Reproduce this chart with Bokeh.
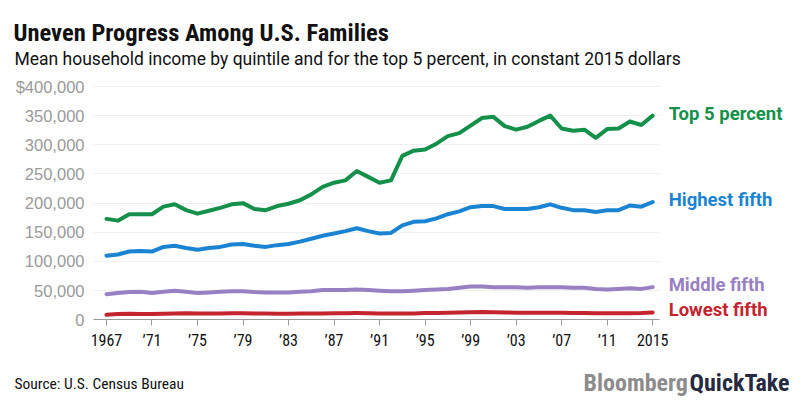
from bokeh.plotting import figure
from bokeh.models import Label, FixedTicker, Range1d
from bokeh.embed import file_html
from bokeh.resources import INLINE

years = list(range(1967, 2016))

top5 = [173000, 170000, 181000, 181000, 181000, 194000, 198000, 188000, 182000, 187000,
        192000, 198000, 200000, 190000, 188000, 195000, 199000, 205000, 215000, 228000,
        235000, 239000, 255000, 245000, 235000, 239000, 281000, 290000, 292000, 302000,
        315000, 320000, 333000, 346000, 348000, 332000, 326000, 331000, 341000, 350000,
        328000, 324000, 326000, 312000, 327000, 328000, 340000, 334000, 350000]

highest = [110000, 112000, 117000, 118000, 117000, 125000, 127000, 123000, 120000, 123000,
           125000, 129000, 130000, 127000, 125000, 128000, 130000, 134000, 139000, 144000,
           148000, 152000, 157000, 152000, 148000, 149000, 162000, 168000, 169000, 174000,
           181000, 186000, 193000, 195000, 195000, 190000, 190000, 190000, 193000, 198000,
           192000, 188000, 188000, 185000, 188000, 188000, 196000, 194000, 202000]

middle = [44000, 46000, 47500, 48000, 46000, 48000, 50000, 48000, 46000, 47000,
          48000, 49000, 49000, 47500, 47000, 47000, 47000, 48000, 49000, 51000,
          51000, 51000, 52000, 51000, 50000, 49000, 49000, 50000, 51000, 52000,
          53000, 55000, 57000, 57000, 56000, 56000, 56000, 55000, 56000, 56000,
          56000, 55000, 55000, 53000, 52000, 53000, 54000, 53000, 56000]

lowest = [8500, 9800, 10300, 10100, 10100, 10500, 11000, 11200, 10700, 10900,
          10800, 11200, 11400, 11000, 10600, 10400, 10300, 10600, 10800, 10900,
          11100, 11300, 11500, 11300, 11000, 10700, 10600, 11000, 11800, 11800,
          12100, 12500, 13000, 13400, 12900, 12500, 12300, 12100, 12100, 12300,
          12100, 11600, 11600, 11300, 11100, 11200, 11400, 11500, 12500]

series_names = ["Top 5 percent", "Highest fifth", "Middle fifth", "Lowest fifth"]
series_values = [top5, highest, middle, lowest]
series_colors = ["#14904b", "#1a84d2", "#9880c2", "#c3242d"]
label_nudges = [2, 1.5, 2, 3]

y_ticks = [0, 50000, 100000, 150000, 200000, 250000, 300000, 350000, 400000]
y_tick_labels = ["0", "50,000", "100,000", "150,000", "200,000", "250,000",
                 "300,000", "350,000", "$400,000"]
x_ticks = [1967, 1971, 1975, 1979, 1983, 1987, 1991, 1995, 1999, 2003, 2007, 2011, 2015]
x_tick_labels = ["1967", "\u201971", "\u201975", "\u201979", "\u201983", "\u201987", "\u201991",
                 "\u201995", "\u201999", "\u201903", "\u201907", "\u201911", "2015"]

# plotting area (the data extent that the axes and grid cover)
X0, X1 = 1965.86, 2015.6
W, H = 800, 400
# the frame covers the whole canvas, so that texts around the chart are not clipped
PX_PER_YEAR = 566 / (X1 - X0)
VAL_PER_PX = 400000 / 233.3
x_lo = X0 - 93 / PX_PER_YEAR
x_hi = X0 + (W - 93) / PX_PER_YEAR
y_hi = 400000 + 86 * VAL_PER_PX
y_lo = -(H - 319.3) * VAL_PER_PX

NARROW = "'Liberation Sans Narrow', 'Roboto Condensed', 'Roboto', sans-serif"
BODY_FONT = "Roboto"

p = figure(width=W, height=H, output_backend="svg", toolbar_location=None,
           min_border=0, min_border_left=0, min_border_right=0,
           min_border_top=0, min_border_bottom=0,
           x_range=Range1d(x_lo, x_hi), y_range=Range1d(y_lo, y_hi))
p.outline_line_color = None
p.background_fill_color = "white"
p.border_fill_color = "white"

for vals, color in zip(series_values, series_colors):
    p.line(years, vals, line_color=color, line_width=4, line_join="round", line_cap="round")

# x axis, drawn at y = 0
xa = p.xaxis[0]
xa.fixed_location = 0
xa.bounds = (X0, X1)
xa.ticker = FixedTicker(ticks=x_ticks)
xa.major_label_overrides = {t: l for t, l in zip(x_ticks, x_tick_labels)}
xa.axis_line_color = "#9a9a9a"
xa.major_tick_line_color = "#9a9a9a"
xa.major_tick_out = 6
xa.major_tick_in = 0
xa.minor_tick_line_color = None
xa.major_label_text_font = NARROW
xa.major_label_text_font_size = "16px"
xa.major_label_text_color = "#111111"
xa.major_label_standoff = 5

# y axis, drawn at the left edge of the plotting area
ya = p.yaxis[0]
ya.fixed_location = X0
ya.ticker = FixedTicker(ticks=y_ticks)
ya.major_label_overrides = {t: l for t, l in zip(y_ticks, y_tick_labels)}
ya.axis_line_color = None
ya.major_tick_line_color = None
ya.minor_tick_line_color = None
ya.major_label_text_font = "Liberation Sans"
ya.major_label_text_font_size = "16.5px"
ya.major_label_text_color = "#9a9a9a"
ya.major_label_standoff = 3

p.xgrid.visible = False
yg = p.ygrid[0]
yg.ticker = FixedTicker(ticks=y_ticks)
yg.grid_line_color = "#efefef"
yg.grid_line_width = 1
yg.cross_bounds = (X0, X1)

# series labels at the end of each line
for name, vals, color, nudge in zip(series_names, series_values, series_colors, label_nudges):
    p.add_layout(Label(x=years[-1], y=vals[-1], text=name, x_offset=16, y_offset=nudge,
                       text_color=color, text_font=BODY_FONT, text_font_style="bold",
                       text_font_size="18.5px", text_baseline="middle", text_align="left"))

# title, subtitle, source and logo (screen units from the canvas' bottom-left)
p.add_layout(Label(x=13, y=H - 32, x_units="screen", y_units="screen",
                   text="Uneven Progress Among U.S. Families", text_font=NARROW,
                   text_font_style="bold", text_font_size="24.5px", text_color="#111111",
                   text_baseline="alphabetic"))
p.add_layout(Label(x=14, y=H - 58, x_units="screen", y_units="screen",
                   text="Mean household income by quintile and for the top 5 percent, in constant 2015 dollars",
                   text_font=BODY_FONT, text_font_size="17.5px", text_color="#111111",
                   text_baseline="alphabetic"))
p.add_layout(Label(x=14, y=H - 383, x_units="screen", y_units="screen",
                   text="Source: U.S. Census Bureau", text_font=NARROW,
                   text_font_size="15.5px", text_color="#111111", text_baseline="alphabetic"))
p.add_layout(Label(x=583, y=H - 382, x_units="screen", y_units="screen",
                   text="Bloomberg", text_font=NARROW, text_font_style="bold",
                   text_font_size="24px", text_color="#8c8c8c", text_baseline="alphabetic"))
p.add_layout(Label(x=789, y=H - 382, x_units="screen", y_units="screen",
                   text="QuickTake", text_font=NARROW, text_font_style="bold",
                   text_font_size="24px", text_color="#262a40", text_baseline="alphabetic",
                   text_align="right"))

open("out.html", "w").write(file_html(p, INLINE))
